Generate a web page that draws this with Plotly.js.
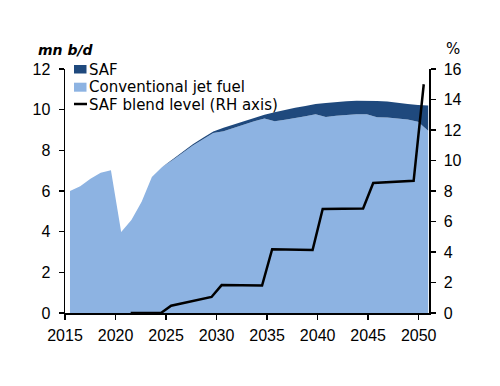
<!DOCTYPE html>
<html><head><meta charset="utf-8">
<script src="https://cdn.plot.ly/plotly-3.0.1.min.js"></script>
<style>html,body{margin:0;padding:0;background:#fff}#chart{width:500px;height:386px}</style>
</head><body><div id="chart"></div>
<script>
// ---- data ----
const years = [2015,2016,2017,2018,2019,2020,2021,2022,2023,2024,2025,2026,2027,2028,2029,2030,2031,2032,2033,2034,2035,2036,2037,2038,2039,2040,2041,2042,2043,2044,2045,2046,2047,2048,2049,2050];
const conventional = [6.0,6.23,6.6,6.9,7.02,3.98,4.57,5.47,6.69,7.18,7.51,7.87,8.24,8.55,8.85,8.94,9.11,9.27,9.43,9.57,9.43,9.5,9.58,9.68,9.78,9.64,9.7,9.74,9.77,9.77,9.63,9.62,9.58,9.52,9.4,8.96];
const saf = [0,0,0,0,0,0,0,0,0,0,0.04,0.05,0.06,0.07,0.08,0.17,0.16,0.16,0.15,0.18,0.44,0.49,0.51,0.5,0.5,0.69,0.68,0.68,0.67,0.67,0.8,0.78,0.75,0.76,0.83,1.24];
const blendYears = [2021,2022,2023,2024,2025,2026,2027,2028,2029,2030,2031,2032,2033,2034,2035,2036,2037,2038,2039,2040,2041,2042,2043,2044,2045,2046,2047,2048,2049,2050];
const blendLevel = [0,0,0,0,0.48,0.62,0.76,0.9,1.05,1.83,1.82,1.81,1.8,1.8,4.18,4.17,4.15,4.14,4.13,6.82,6.83,6.84,6.85,6.86,8.52,8.56,8.6,8.63,8.67,15.0];
const xTickVals = [2015,2020,2025,2030,2035,2040,2045,2050];
const leftTicks = [0,2,4,6,8,10,12];
const rightTicks = [0,2,4,6,8,10,12,14,16];
const seriesNames = ['SAF','Conventional jet fuel','SAF blend level (RH axis)'];
const leftUnit = 'mn b/d';
const rightUnit = '%';

// ---- styling ----
const C_SAF = '#1F497D';
const C_CONV = '#8DB3E2';
const FONT = 'DejaVu Sans';
const TICKFONT = 'Liberation Sans';
const L = 65, R = 71, T = 69, B = 73, WID = 500, HGT = 386;
const PW = WID - L - R, PH = HGT - T - B;
const px = x => (x - L) / PW;
const py = y => (T + PH - y) / PH;

const traces = [
  {x: years, y: conventional, name: seriesNames[1], type: 'scatter', mode: 'lines',
   stackgroup: 'fuel', line: {width: 0, color: C_CONV}, fillcolor: C_CONV, xaxis: 'x', yaxis: 'y', hoverinfo: 'skip'},
  {x: years, y: saf, name: seriesNames[0], type: 'scatter', mode: 'lines',
   stackgroup: 'fuel', line: {width: 0, color: C_SAF}, fillcolor: C_SAF, xaxis: 'x', yaxis: 'y', hoverinfo: 'skip'},
  {x: blendYears.map(v => v + 0.5), y: blendLevel, name: seriesNames[2], type: 'scatter', mode: 'lines',
   line: {width: 2.5, color: '#000'}, xaxis: 'x2', yaxis: 'y2', hoverinfo: 'skip'}
];

const axisCommon = {showgrid: false, zeroline: false, showline: true, linecolor: '#000', linewidth: 1.5,
  ticks: 'outside', ticklen: 5, tickwidth: 1.5, tickcolor: '#000', fixedrange: true,
  tickfont: {family: TICKFONT, size: 16, color: '#000'}};

const shapes = [
  {type: 'rect', xref: 'paper', yref: 'paper', x0: px(74), x1: px(86.5), y0: py(73.5), y1: py(65), fillcolor: C_SAF, line: {width: 0}},
  {type: 'rect', xref: 'paper', yref: 'paper', x0: px(74), x1: px(86.5), y0: py(91.7), y1: py(82.7), fillcolor: C_CONV, line: {width: 0}},
  {type: 'line', xref: 'paper', yref: 'paper', x0: px(74), x1: px(87), y0: py(104), y1: py(104), line: {width: 2.5, color: '#000'}}
];
const legY = [70, 87.5, 104.5];
const annotations = seriesNames.map((t, i) => ({text: t, xref: 'paper', yref: 'paper', x: px(86.5), y: py(legY[i]),
  xanchor: 'left', yanchor: 'middle', showarrow: false, font: {family: FONT, size: 15, color: '#000'}}));
annotations.push({text: '<b><i>' + leftUnit + '</i></b>', xref: 'paper', yref: 'paper', x: px(65.5), y: py(50),
  xanchor: 'center', yanchor: 'middle', showarrow: false, font: {family: FONT, size: 14, color: '#000'}});
annotations.push({text: rightUnit, xref: 'paper', yref: 'paper', x: px(452.5), y: py(49),
  xanchor: 'center', yanchor: 'middle', showarrow: false, font: {family: FONT, size: 15, color: '#000'}});

const layout = {
  width: WID, height: HGT, margin: {l: L, r: R, t: T, b: B, pad: 0},
  paper_bgcolor: '#fff', plot_bgcolor: 'rgba(0,0,0,0)', showlegend: false,
  font: {family: FONT, size: 14, color: '#000'},
  xaxis: Object.assign({}, axisCommon, {range: [2014.512, 2050.078], ticks: '', showticklabels: false}),
  xaxis2: Object.assign({}, axisCommon, {overlaying: 'x', anchor: 'y', side: 'bottom', range: [2015, 2051.02],
    tickmode: 'array', tickvals: xTickVals, ticktext: xTickVals.map(String), ticklabelstandoff: 2}),
  yaxis: Object.assign({}, axisCommon, {range: [0, 12], tickmode: 'array', tickvals: leftTicks, ticklabelstandoff: 5}),
  yaxis2: Object.assign({}, axisCommon, {overlaying: 'y', anchor: 'x2', side: 'right', range: [0, 16],
    tickmode: 'array', tickvals: rightTicks, ticklabelstandoff: 5}),
  shapes: shapes, annotations: annotations
};

Plotly.newPlot('chart', traces, layout, {staticPlot: true, displayModeBar: false});
</script>
</body></html>
